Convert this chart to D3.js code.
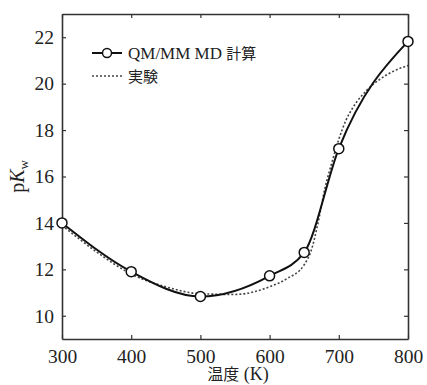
<!DOCTYPE html>
<html>
<head>
<meta charset="utf-8">
<script src="https://cdn.jsdelivr.net/npm/d3@7"></script>
<style>
  body { margin: 0; background: #fff; }
  .cjk { font-family: "Noto Sans CJK JP", sans-serif; }
</style>
</head>
<body>
<svg width="427" height="385"></svg>
<script>
// QM/MM MD calculated points
const calcT = [300, 400, 500, 600, 650, 700, 800];
const calcPK = [14.0, 11.9, 10.83, 11.72, 12.73, 17.2, 21.82];

const expT = [300, 350, 400, 450, 500, 550, 600, 625, 650, 660, 670, 680, 690, 700, 710, 720, 740, 760, 780, 800];
const expPK = [13.9, 12.75, 11.8, 11.25, 10.95, 10.92, 11.25, 11.6, 12.2, 12.8, 14.0, 15.5, 16.6, 17.6, 18.4, 18.95, 19.7, 20.2, 20.55, 20.78];

const xTicks = [300, 400, 500, 600, 700, 800];
const yTicks = [10, 12, 14, 16, 18, 20, 22];

const serif = "'Liberation Serif', 'Times New Roman', Times, serif";

const svg = d3.select("svg").style("font-family", serif);
const margin = { top: 14, right: 19, bottom: 46, left: 62 };
const width = +svg.attr("width") - margin.left - margin.right;
const height = +svg.attr("height") - margin.top - margin.bottom;
const g = svg.append("g").attr("transform", `translate(${margin.left},${margin.top})`);

const x = d3.scaleLinear().domain([300, 800]).range([0, width]);
const y = d3.scaleLinear().domain([9, 23]).range([height, 0]);

const axisColor = "#333";
const tickLen = 4;

// frame with inward ticks on all four sides
function styleAxis(sel) {
    sel.attr("font-family", serif);
    sel.select(".domain").attr("stroke", axisColor).attr("stroke-width", 1.6);
    sel.selectAll(".tick line").attr("stroke", axisColor).attr("stroke-width", 1.2);
    sel.selectAll(".tick text").attr("font-size", 19.5).attr("fill", "#222");
}

const xb = g.append("g").attr("transform", `translate(0,${height})`)
    .call(d3.axisBottom(x).tickValues(xTicks).tickSize(-tickLen).tickSizeOuter(0).tickPadding(10));
styleAxis(xb);

const xt = g.append("g")
    .call(d3.axisTop(x).tickValues(xTicks).tickSize(-tickLen).tickSizeOuter(0).tickFormat(""));
styleAxis(xt);

const yl = g.append("g")
    .call(d3.axisLeft(y).tickValues(yTicks).tickSize(-tickLen).tickSizeOuter(0).tickPadding(8));
styleAxis(yl);

const yr = g.append("g").attr("transform", `translate(${width},0)`)
    .call(d3.axisRight(y).tickValues(yTicks).tickSize(-tickLen).tickSizeOuter(0).tickFormat(""));
styleAxis(yr);

const expData = expT.map((t, i) => ({ t: t, v: expPK[i] }));
const calcData = calcT.map((t, i) => ({ t: t, v: calcPK[i] }));

const line = d3.line()
    .x(d => x(d.t))
    .y(d => y(d.v))
    .curve(d3.curveMonotoneX);

g.append("path")
    .datum(expData)
    .attr("fill", "none")
    .attr("stroke", "#444")
    .attr("stroke-width", 1.6)
    .attr("stroke-dasharray", "2,2")
    .attr("d", line);

g.append("path")
    .datum(calcData)
    .attr("fill", "none")
    .attr("stroke", "#111")
    .attr("stroke-width", 2)
    .attr("d", line);

g.selectAll(".pt")
    .data(calcData)
    .enter()
    .append("circle")
    .attr("class", "pt")
    .attr("cx", d => x(d.t))
    .attr("cy", d => y(d.v))
    .attr("r", 5)
    .attr("fill", "#fff")
    .attr("stroke", "#111")
    .attr("stroke-width", 1.5);

// legend
const leg = g.append("g").attr("transform", "translate(30,39)");
leg.append("line").attr("x1", 0).attr("x2", 30).attr("y1", 0).attr("y2", 0)
    .attr("stroke", "#111").attr("stroke-width", 2);
leg.append("circle").attr("cx", 15).attr("cy", 0).attr("r", 4.5)
    .attr("fill", "#fff").attr("stroke", "#111").attr("stroke-width", 1.5);
const t1 = leg.append("text").attr("x", 36).attr("y", 5.5).attr("font-size", 17).attr("fill", "#222");
t1.append("tspan").text("QM/MM MD ");
t1.append("tspan").attr("class", "cjk").attr("font-size", 15).text("計算");

leg.append("line").attr("x1", 0).attr("x2", 30).attr("y1", 23).attr("y2", 23)
    .attr("stroke", "#444").attr("stroke-width", 1.4).attr("stroke-dasharray", "2,2");
leg.append("text").attr("x", 36).attr("y", 28.5).attr("font-size", 15).attr("fill", "#222")
    .attr("class", "cjk").text("実験");

// axis titles
const yTitle = svg.append("text")
    .attr("transform", `translate(24,${margin.top + height / 2}) rotate(-90)`)
    .attr("text-anchor", "middle")
    .attr("font-size", 20)
    .attr("fill", "#222");
yTitle.append("tspan").text("p");
yTitle.append("tspan").attr("font-style", "italic").text("K");
yTitle.append("tspan").attr("font-size", 13).attr("dy", 4).text("w");

const xTitle = svg.append("text")
    .attr("x", margin.left + width / 2 + 3)
    .attr("y", 380)
    .attr("text-anchor", "middle")
    .attr("font-size", 18)
    .attr("fill", "#222");
xTitle.append("tspan").attr("class", "cjk").attr("font-size", 16).text("温度");
xTitle.append("tspan").text(" (K)");
</script>
</body>
</html>
